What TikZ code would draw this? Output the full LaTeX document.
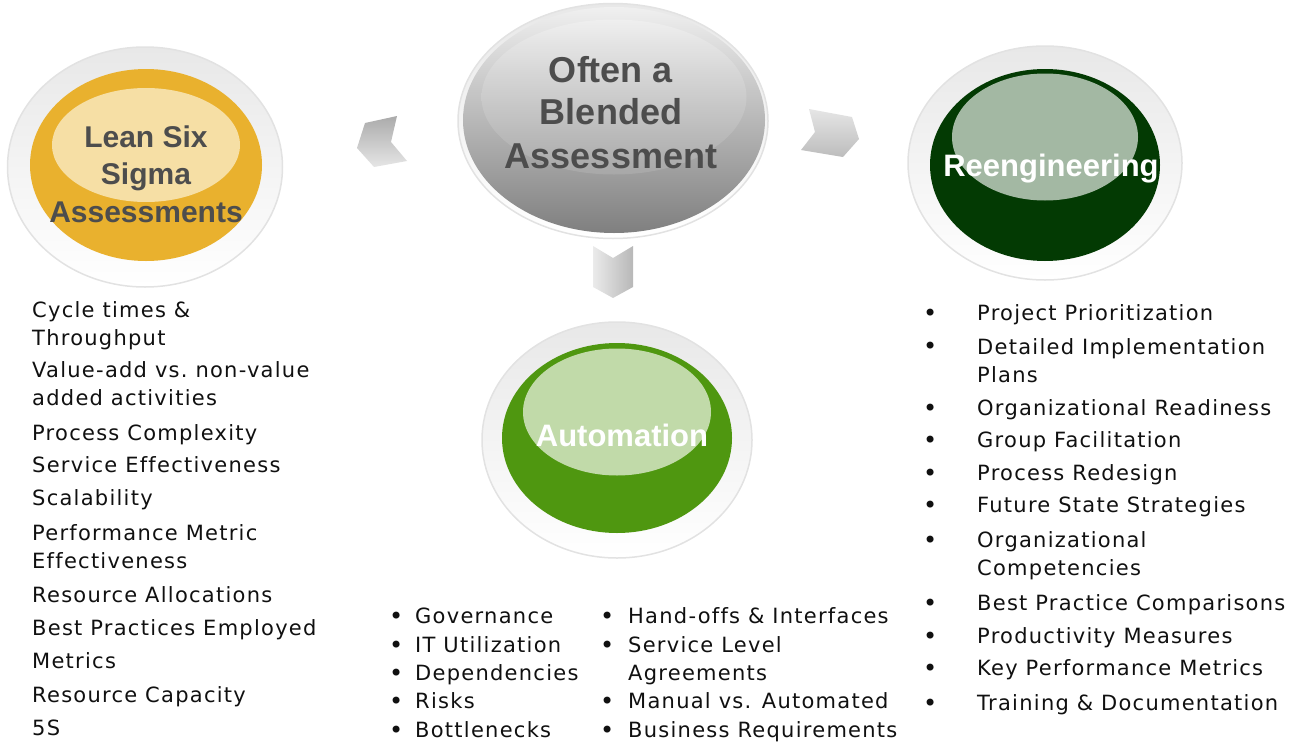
\documentclass[tikz,border=0pt]{standalone}
\usepackage{fontspec}
\setmainfont{Liberation Sans}
\newfontfamily\listfont[LetterSpace=6,Ligatures=NoCommon]{DejaVu Sans}
\usetikzlibrary{shapes.geometric}
\definecolor{ringtop}{HTML}{E8E8E8}
\definecolor{ringedge}{HTML}{E2E2E2}
\definecolor{gold}{HTML}{E9B12E}
\definecolor{goldlight}{HTML}{F6DFA5}
\definecolor{dkgreen}{HTML}{033A03}
\definecolor{dkgreenlight}{HTML}{A3B8A3}
\definecolor{autogreen}{HTML}{4F9710}
\definecolor{autogreenlight}{HTML}{C1DAA9}
\definecolor{titlegray}{HTML}{4D4D4D}
\definecolor{listtext}{HTML}{101010}
\begin{document}
\begin{tikzpicture}[x=1pt,y=-1pt,
  ring/.style={ellipse, inner sep=0, top color=ringtop, bottom color=white, draw=ringedge, line width=1.5pt},
  disc/.style={ellipse, inner sep=0, draw=none},
  title/.style={font=\fontsize{30}{36}\selectfont\bfseries, text=titlegray, anchor=base, inner sep=0},
  wtitle/.style={font=\fontsize{31}{36}\selectfont\bfseries, text=white, anchor=base, inner sep=0},
  item/.style={font=\listfont\fontsize{21}{28}\selectfont, text=listtext, anchor=base west, align=left, inner sep=0},
  dot/.style={font=\listfont\fontsize{24}{28}\selectfont, text=listtext, anchor=base west, inner sep=0},
  chevron/.style={draw=none}
]
\useasboundingbox (0,0) rectangle (1296,744);

% ---- Lean Six Sigma
\node[ring, minimum width=275, minimum height=240] (lssring) at (145,167) {};
\node[disc, fill=gold, minimum width=232, minimum height=192] (lssdisc) at (146,165) {};
\node[disc, fill=goldlight, minimum width=188, minimum height=114] (lsshi) at (146,145) {};
\node[title] (lss1) at (146,147) {Lean Six};
\node[title] (lss2) at (146,184) {Sigma};
\node[title] (lss3) at (146,222) {Assessments};

% ---- Center
\node[ring, minimum width=310, minimum height=235] (cring) at (613,121) {};
\node[disc, top color=black!6, bottom color=black!50, minimum width=302, minimum height=226] (cdisc) at (614,120) {};
\node[disc, top color=black!4, bottom color=black!30, minimum width=265, minimum height=155, opacity=0.5] (chi) at (614,97) {};
\node[title, font=\fontsize{36}{43}\selectfont\bfseries] (c1) at (611,82) {Often a};
\node[title, font=\fontsize{36}{43}\selectfont\bfseries] (c2) at (611,124) {Blended};
\node[title, font=\fontsize{36}{43}\selectfont\bfseries] (c3) at (611,168) {Assessment};

% ---- Reengineering
\node[ring, minimum width=274, minimum height=234] (rring) at (1045,163) {};
\node[disc, fill=dkgreen, minimum width=230, minimum height=192] (rdisc) at (1045,165) {};
\node[disc, fill=dkgreenlight, minimum width=186, minimum height=127] (rhi) at (1045,137) {};
\node[wtitle] (rt) at (1051,176) {Reengineering};

% ---- Automation
\node[ring, minimum width=270, minimum height=236] (aring) at (617,440) {};
\node[disc, fill=autogreen, minimum width=230, minimum height=190] (adisc) at (617,438) {};
\node[disc, fill=autogreenlight, minimum width=188, minimum height=127] (ahi) at (617,412) {};
\node[wtitle] (at) at (622,446) {Automation};

% ---- Chevrons
\shade[chevron, top color=black!33, bottom color=black!10]
  (365,123) -- (397,116) -- (391,142) -- (407,161) -- (374,167) -- (357,148) -- cycle;
\shade[chevron, top color=black!10, bottom color=black!26]
  (809,109) -- (852,117) -- (859,139) -- (843,157) -- (801,150) -- (815,132) -- cycle;
\shade[chevron, left color=black!8, right color=black!28]
  (593,246) -- (613,258) -- (633,246) -- (633,287) -- (613,298) -- (593,287) -- cycle;

% ---- Left list (multi-line items are placed at their last baseline)
\node[item] (l1) at (32,345) {Cycle times \&\\Throughput};
\node[item] (l2) at (32,405) {Value-add vs.\ non-value\\added activities};
\node[item] (l3) at (32,440) {Process Complexity};
\node[item] (l4) at (32,472) {Service Effectiveness};
\node[item] (l5) at (32,505) {Scalability};
\node[item] (l6) at (32,568) {Performance Metric\\Effectiveness};
\node[item] (l7) at (32,602) {Resource Allocations};
\node[item] (l8) at (32,635) {Best Practices Employed};
\node[item] (l9) at (32,668) {Metrics};
\node[item] (l10) at (32,702) {Resource Capacity};
\node[item] (l11) at (32,735) {5S};

% ---- Center bottom list, column 1
\node[dot] (b1) at (389,624) {•};
\node[item] (m1) at (415,623) {Governance};
\node[dot] (b2) at (389,653) {•};
\node[item] (m2) at (415,652) {IT Utilization};
\node[dot] (b3) at (389,681) {•};
\node[item] (m3) at (415,680) {Dependencies};
\node[dot] (b4) at (389,709) {•};
\node[item] (m4) at (415,708) {Risks};
\node[dot] (b5) at (389,738) {•};
\node[item] (m5) at (415,737) {Bottlenecks};

% ---- Center bottom list, column 2
\node[dot] (b6) at (600,624) {•};
\node[item] (n1) at (628,623) {Hand-offs \& Interfaces};
\node[dot] (b7) at (600,653) {•};
\node[item] (n2) at (628,680) {Service Level\\Agreements};
\node[dot] (b8) at (600,709) {•};
\node[item] (n3) at (628,708) {Manual vs. Automated};
\node[dot] (b9) at (600,738) {•};
\node[item] (n4) at (628,737) {Business Requirements};

% ---- Right list
\node[dot] (rb1) at (923,321) {•};
\node[item] (r1) at (977,320) {Project Prioritization};
\node[dot] (rb2) at (923,354) {•};
\node[item] (r2) at (977,382) {Detailed Implementation\\Plans};
\node[dot] (rb3) at (923,416) {•};
\node[item] (r3) at (977,415) {Organizational Readiness};
\node[dot] (rb4) at (923,448) {•};
\node[item] (r4) at (977,447) {Group Facilitation};
\node[dot] (rb5) at (923,481) {•};
\node[item] (r5) at (977,480) {Process Redesign};
\node[dot] (rb6) at (923,513) {•};
\node[item] (r6) at (977,512) {Future State Strategies};
\node[dot] (rb7) at (923,548) {•};
\node[item] (r7) at (977,575) {Organizational\\Competencies};
\node[dot] (rb8) at (923,611) {•};
\node[item] (r8) at (977,610) {Best Practice Comparisons};
\node[dot] (rb9) at (923,644) {•};
\node[item] (r9) at (977,643) {Productivity Measures};
\node[dot] (rb10) at (923,676) {•};
\node[item] (r10) at (977,675) {Key Performance Metrics};
\node[dot] (rb11) at (923,711) {•};
\node[item] (r11) at (977,710) {Training \& Documentation};
\end{tikzpicture}
\end{document}
